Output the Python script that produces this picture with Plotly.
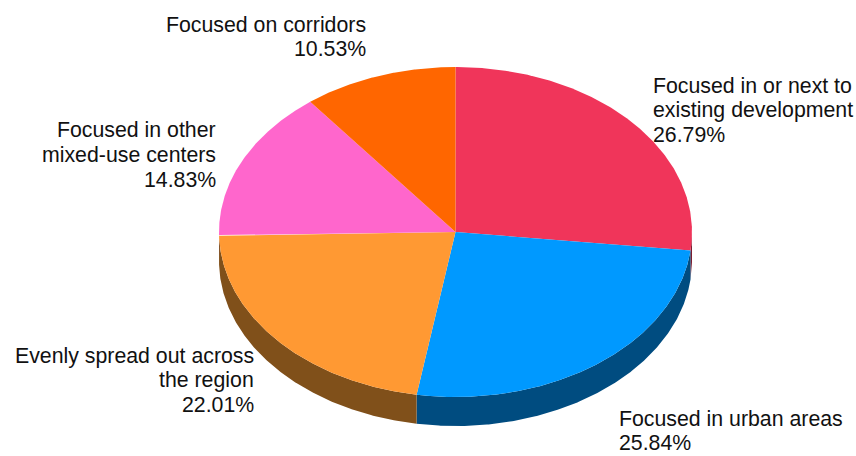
import numpy as np
import plotly.graph_objects as go

# slices, clockwise from 12 o'clock
labels = [
    ["Focused in or next to", "existing development"],
    ["Focused in urban areas"],
    ["Evenly spread out across", "the region"],
    ["Focused in other", "mixed-use centers"],
    ["Focused on corridors"],
]
shares = [26.79, 25.84, 22.01, 14.83, 10.53]

top_colors = ["#F0355A", "#0099FF", "#FF9933", "#FF66CC", "#FF6600"]
side_colors = ["#7A1B2E", "#004C80", "#80501A", "#80336A", "#803300"]

# label placement in pixels: (x, cap top of first line, anchor)
label_boxes = [
    (651, 78, "left"),
    (617, 411, "left"),
    (256, 348, "right"),
    (218, 123, "right"),
    (368, 17, "right"),
]
LINE_STEP = 24.5
FONT_SIZE = 21.3

W, H = 856, 456
CX, CY = 455.5, 232.0  # pie centre in pixels
SCALE = 236.5          # pixels per unit
RY = 165.0 / SCALE     # vertical squash of the top face
DEPTH = 29.0 / SCALE   # thickness of the pie


def arc(a0, a1, n=240):
    t = np.linspace(a0, a1, n)
    return np.sin(t), RY * np.cos(t)


fig = go.Figure()

total = sum(shares)
edges = np.concatenate([[0.0], np.cumsum(shares) / total * 2 * np.pi])

# side walls, only the front half (angles between pi/2 and 3pi/2) is visible
for i in range(len(shares)):
    a0 = max(edges[i], np.pi / 2)
    a1 = min(edges[i + 1], 3 * np.pi / 2)
    if a1 <= a0:
        continue
    x, y = arc(a0, a1)
    xs = np.concatenate([x, x[::-1], x[:1]])
    ys = np.concatenate([y, y[::-1] - DEPTH, y[:1]])
    fig.add_trace(go.Scatter(x=xs, y=ys, mode="lines", fill="toself",
                             fillcolor=side_colors[i], line={"width": 0},
                             hoverinfo="skip", showlegend=False))

# top face
for i in range(len(shares)):
    x, y = arc(edges[i], edges[i + 1])
    xs = np.concatenate([[0.0], x, [0.0]])
    ys = np.concatenate([[0.0], y, [0.0]])
    fig.add_trace(go.Scatter(x=xs, y=ys, mode="lines", fill="toself",
                             fillcolor=top_colors[i], line={"width": 0},
                             name=" ".join(labels[i]),
                             hoverinfo="name", showlegend=False))

for lines, val, (px, cap_top, side) in zip(labels, shares, label_boxes):
    for k, line in enumerate(lines + [f"{val:.2f}%"]):
        box_top = cap_top + k * LINE_STEP - 6.5
        fig.add_annotation(
            x=px / W, y=1 - box_top / H, xref="paper", yref="paper",
            xanchor=side, yanchor="top", align=side, showarrow=False,
            text=line,
            font={"family": "Liberation Sans, Arial, sans-serif",
                  "size": FONT_SIZE, "color": "#111111"},
        )

fig.update_layout(
    width=W,
    height=H,
    margin={"l": 0, "r": 0, "t": 0, "b": 0},
    paper_bgcolor="white",
    plot_bgcolor="white",
    xaxis={"range": [-CX / SCALE, (W - CX) / SCALE], "visible": False, "fixedrange": True},
    yaxis={"range": [-(H - CY) / SCALE, CY / SCALE], "visible": False, "fixedrange": True},
)

# drop the default 8px body margin so the figure fills the window
fig.write_html(
    "out.html",
    config={"displayModeBar": False},
    post_script="document.body.style.margin = '0';",
)
